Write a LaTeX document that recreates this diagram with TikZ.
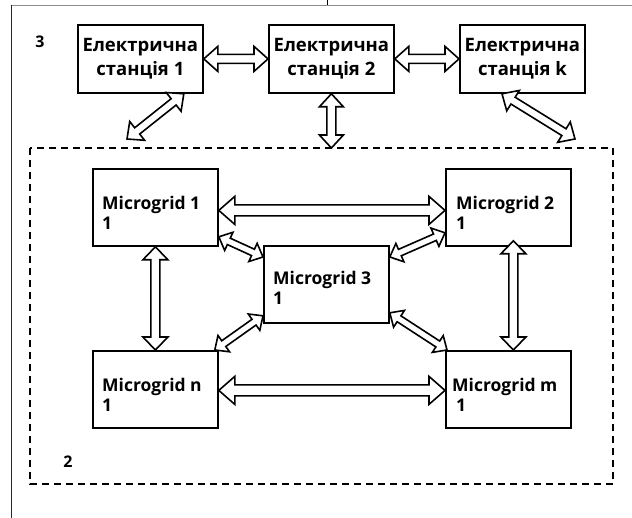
\documentclass[tikz,border=0pt]{standalone}
\usepackage{fontspec}
\setmainfont{Open Sans}
\usetikzlibrary{calc}
\tikzset{
  stbox/.style={draw, line width=1.8pt, minimum width=125pt, minimum height=68pt, inner sep=0pt, align=center,
    font=\bfseries\fontsize{18.5}{24}\selectfont},
  mgbox/.style={draw, line width=1.8pt, minimum width=125pt, minimum height=77pt, inner sep=0pt},
  mgtext/.style={anchor=west, align=left, inner sep=0pt, font=\bfseries\fontsize{17.5}{20}\selectfont},
  lbl/.style={inner sep=0pt, font=\bfseries\fontsize{16}{18}\selectfont},
  arr/.style={draw, fill=white, line width=1.6pt, line join=miter},
  zone/.style={draw, line width=1.6pt, dash pattern=on 7pt off 5pt},
}
% double-lined hollow two-headed arrow: from, to, head length, head half-width, shaft half-width
\newcommand\dblarr[5]{%
  \draw[arr] (#1)
    -- ($($(#1)!#3pt!(#2)$)!#4pt!90:(#2)$)
    -- ($($(#1)!#3pt!(#2)$)!#5pt!90:(#2)$)
    -- ($($(#2)!#3pt!(#1)$)!#5pt!-90:(#1)$)
    -- ($($(#2)!#3pt!(#1)$)!#4pt!-90:(#1)$)
    -- (#2)
    -- ($($(#2)!#3pt!(#1)$)!#4pt!90:(#1)$)
    -- ($($(#2)!#3pt!(#1)$)!#5pt!90:(#1)$)
    -- ($($(#1)!#3pt!(#2)$)!#5pt!-90:(#2)$)
    -- ($($(#1)!#3pt!(#2)$)!#4pt!-90:(#2)$)
    -- cycle;}
\begin{document}
\begin{tikzpicture}[x=1pt, y=-1pt]
\useasboundingbox (0,0) rectangle (632,518);
% outer frame
\draw[black!45, line width=0.8pt] (11,5) -- (632,5);
\draw[black!85, line width=1pt] (11,5) -- (11,518);
\draw[black, line width=0.8pt] (327,0) -- (327,5);
% zone 2
\draw[zone] (30,148) rectangle (613,484);
% stations
\node[stbox, anchor=north west] (s1) at (77,24) {Електрична\\станція 1};
\node[stbox, anchor=north west] (s2) at (268,24) {Електрична\\станція 2};
\node[stbox, anchor=north west] (sk) at (459,24) {Електрична\\станція k};
\node[lbl] (n3) at (40,42) {3};
\node[lbl] (n2) at (68,462) {2};
% microgrids
\node[mgbox, anchor=north west] (mg1) at (92,168) {};
\node[mgbox, anchor=north west] (mg2) at (445,168) {};
\node[mgbox, anchor=north west] (mg3) at (263,245) {};
\node[mgbox, anchor=north west] (mgn) at (92,350) {};
\node[mgbox, anchor=north west] (mgm) at (445,350) {};
\node[mgtext] (t1) at ([shift={(10pt,-45pt)}]mg1.north west) {Microgrid 1\\1};
\node[mgtext] (t2) at ([shift={(11pt,-45pt)}]mg2.north west) {Microgrid 2\\1};
\node[mgtext] (t3) at ([shift={(10pt,-43pt)}]mg3.north west) {Microgrid 3\\1};
\node[mgtext] (tn) at ([shift={(10pt,-45pt)}]mgn.north west) {Microgrid n\\1};
\node[mgtext] (tm) at ([shift={(7pt,-45pt)}]mgm.north west) {Microgrid m\\\hspace*{4pt}1};
% arrow end points
\coordinate (s1d) at ([xshift=-20pt]s1.south east);
\coordinate (skd) at ([xshift=43pt]sk.south west);
\coordinate (c1) at (127,139);
\coordinate (c2) at (s2.south |- 0,148);
\coordinate (ck) at (575,139);
\coordinate (m12a) at ([yshift=-3pt]mg1.east);
\coordinate (m12b) at ([yshift=-3pt]mg2.west);
\coordinate (mnma) at ([yshift=-1pt]mgn.east);
\coordinate (mnmb) at ([yshift=-1pt]mgm.west);
\coordinate (m13a) at ([yshift=10pt]mg1.south east);
\coordinate (m13b) at ([yshift=-12pt]mg3.north west);
\coordinate (m23a) at ([yshift=14pt]mg2.south west);
\coordinate (m23b) at ([yshift=-12pt]mg3.north east);
\coordinate (m3na) at ([yshift=8pt]mg3.south west);
\coordinate (m3nb) at ([xshift=-4pt]mgn.north east);
\coordinate (m3ma) at ([yshift=11pt]mg3.south east);
\coordinate (m3mb) at ([xshift=2pt]mgm.north west);
\coordinate (m1na) at (mg1.south);
\coordinate (m1nb) at (mgn.north);
\coordinate (m2ma) at ([xshift=5pt,yshift=6pt]mg2.south);
\coordinate (m2mb) at ([xshift=5pt]mgm.north);
% station arrows
\dblarr{s1.east}{s2.west}{14}{12.5}{4.5}
\dblarr{s2.east}{sk.west}{14}{12.5}{4.5}
\dblarr{s1d}{c1}{13}{12}{4}
\dblarr{s2.south}{c2}{13}{12}{4.5}
\dblarr{skd}{ck}{13}{12}{4}
% microgrid arrows
\dblarr{m12a}{m12b}{16}{14}{5.5}
\dblarr{mnma}{mnmb}{16}{14}{5.5}
\dblarr{m1na}{m1nb}{13}{12.5}{4.5}
\dblarr{m2ma}{m2mb}{13}{12.5}{4.5}
\dblarr{m13a}{m13b}{11}{10}{3.5}
\dblarr{m23a}{m23b}{11}{10}{3.5}
\dblarr{m3na}{m3nb}{11}{10}{3.5}
\dblarr{m3ma}{m3mb}{11}{10}{3.5}
\end{tikzpicture}
\end{document}
